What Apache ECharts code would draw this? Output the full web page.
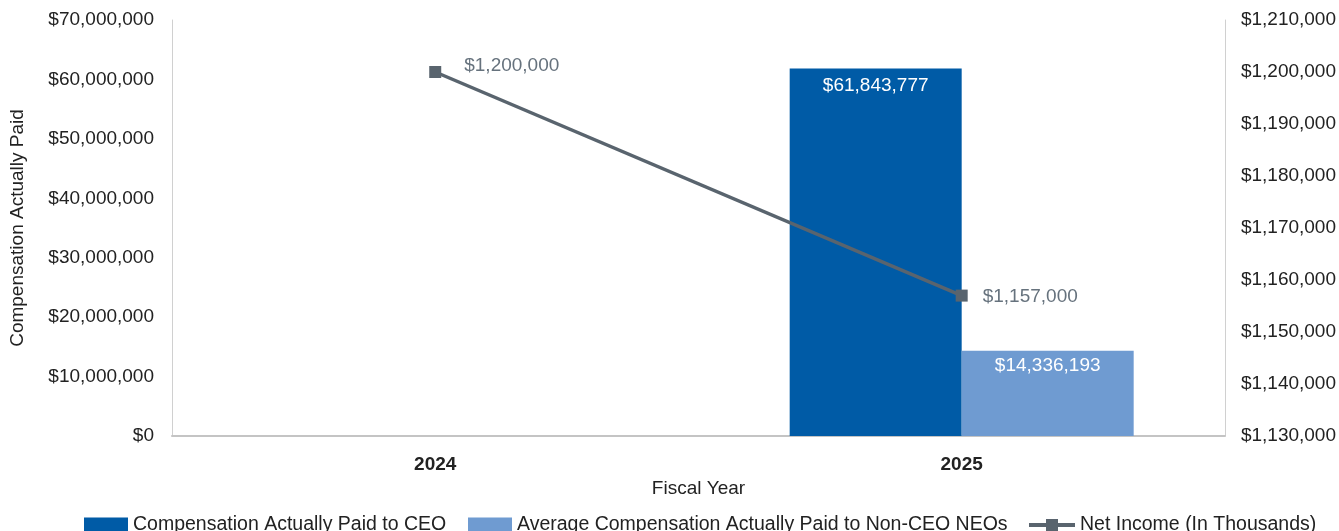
<!DOCTYPE html>
<html>
<head>
<meta charset="utf-8">
<script src="https://cdn.jsdelivr.net/npm/echarts@6/dist/echarts.min.js"></script>
<style>
  html, body { margin: 0; padding: 0; background: #fff; }
  #chart { width: 1339px; height: 531px; }
</style>
</head>
<body>
<div id="chart"></div>
<script>
// Fiscal years on the category axis
const fiscalYears = ['2024', '2025'];
// Compensation actually paid (USD)
const ceoPay = [null, 61843777];
const neoAvgPay = [null, 14336193];
// Net income (in thousands of USD)
const netIncome = [1200000, 1157000];

const FONT = '"Liberation Sans", Arial, sans-serif';
const money = v => '$' + Number(v).toLocaleString('en-US');

const SERIES_CEO = 'Compensation Actually Paid to CEO';
const SERIES_NEO = 'Average Compensation Actually Paid to Non-CEO NEOs';
const SERIES_NI = 'Net Income (In Thousands)';

// one legend block per entry so each can sit at its own spot on the bottom row
const legendBase = {
  top: 515,
  padding: 0,
  itemHeight: 15,
  textStyle: { fontFamily: FONT, fontSize: 19.5, color: '#222' }
};

const chart = echarts.init(document.getElementById('chart'), null, { renderer: 'canvas' });

chart.setOption({
  animation: false,
  textStyle: { fontFamily: FONT },
  grid: { left: 171, right: 114, top: 20, bottom: 95 },
  legend: [
    Object.assign({}, legendBase, { left: 84, itemWidth: 44, data: [{ name: SERIES_CEO, icon: 'rect' }] }),
    Object.assign({}, legendBase, { left: 468, itemWidth: 44, data: [{ name: SERIES_NEO, icon: 'rect' }] }),
    Object.assign({}, legendBase, {
      left: 1027, itemWidth: 46,
      lineStyle: { width: 4 },
      data: [{ name: SERIES_NI }]
    })
  ],
  xAxis: {
    type: 'category',
    data: fiscalYears,
    name: 'Fiscal Year',
    nameLocation: 'middle',
    nameGap: 43,
    nameTextStyle: { fontFamily: FONT, fontSize: 19, color: '#222' },
    axisTick: { show: false },
    axisLine: { lineStyle: { color: '#c4c4c4', width: 2 } },
    axisLabel: { fontFamily: FONT, fontSize: 19, fontWeight: 'bold', color: '#222', margin: 19 }
  },
  yAxis: [
    {
      type: 'value',
      min: 0,
      max: 70000000,
      interval: 10000000,
      name: 'Compensation Actually Paid',
      nameLocation: 'middle',
      nameGap: 145,
      nameRotate: 90,
      nameTextStyle: { fontFamily: FONT, fontSize: 19, color: '#222' },
      axisLine: { show: true, lineStyle: { color: '#d0d0d0', width: 1 } },
      axisTick: { show: false },
      splitLine: { show: false },
      axisLabel: { fontFamily: FONT, fontSize: 19, color: '#222', margin: 18, formatter: money }
    },
    {
      type: 'value',
      min: 1130000,
      max: 1210000,
      interval: 10000,
      position: 'right',
      axisLine: { show: true, lineStyle: { color: '#d0d0d0', width: 1 } },
      axisTick: { show: false },
      splitLine: { show: false },
      axisLabel: { fontFamily: FONT, fontSize: 19, color: '#222', margin: 16, formatter: money }
    }
  ],
  series: [
    {
      name: SERIES_CEO,
      type: 'bar',
      yAxisIndex: 0,
      data: ceoPay,
      barWidth: 172,
      barGap: '0%',
      itemStyle: { color: '#005ba6' },
      label: {
        show: true,
        position: 'insideTop',
        distance: 8,
        color: '#fff',
        fontFamily: FONT,
        fontSize: 19,
        formatter: p => money(p.value)
      }
    },
    {
      name: SERIES_NEO,
      type: 'bar',
      yAxisIndex: 0,
      data: neoAvgPay,
      barWidth: 172,
      barGap: '0%',
      itemStyle: { color: '#6f9bd1' },
      label: {
        show: true,
        position: 'insideTop',
        distance: 5,
        color: '#fff',
        fontFamily: FONT,
        fontSize: 19,
        formatter: p => money(p.value)
      }
    },
    {
      name: SERIES_NI,
      type: 'line',
      yAxisIndex: 1,
      data: netIncome.map((v, i) => ({
        value: v,
        // first point's label sits a little higher and further out
        label: i === 0 ? { distance: 23, offset: [0, -6] } : { distance: 15, offset: [0, 1] }
      })),
      symbol: 'rect',
      symbolSize: 12,
      lineStyle: { color: '#59646e', width: 3.5 },
      itemStyle: { color: '#59646e' },
      label: {
        show: true,
        position: 'right',
        color: '#66727d',
        fontFamily: FONT,
        fontSize: 19,
        formatter: p => money(p.value)
      }
    }
  ]
});
</script>
</body>
</html>
